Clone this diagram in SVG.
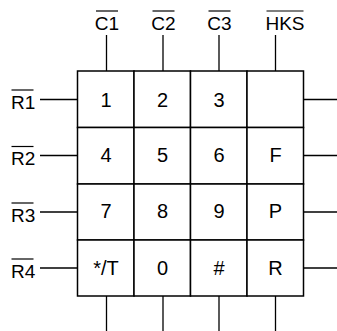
<svg xmlns="http://www.w3.org/2000/svg" width="337" height="331" viewBox="0 0 337 331">
<style>
text{font-family:"Liberation Sans",Arial,sans-serif;font-size:20px;fill:#000}
.lb{font-size:19px}
.c{text-anchor:middle}
.cell{fill:#fff;stroke:#000;stroke-width:1.5}
.w{stroke:#000;stroke-width:1.3;fill:none}
.ob{stroke:#000;stroke-width:1.2}
</style>
<rect width="337" height="331" fill="#fff"/>
<g id="connectors" class="w">
<line x1="106.5" y1="35" x2="106.5" y2="71"/>
<line x1="163" y1="35" x2="163" y2="71"/>
<line x1="219" y1="35" x2="219" y2="71"/>
<line x1="275.5" y1="35" x2="275.5" y2="71"/>
<line x1="40" y1="99.5" x2="77.5" y2="99.5"/>
<line x1="40" y1="155.5" x2="77.5" y2="155.5"/>
<line x1="40" y1="212" x2="77.5" y2="212"/>
<line x1="40" y1="268" x2="77.5" y2="268"/>
<line x1="303.5" y1="99.5" x2="337" y2="99.5"/>
<line x1="303.5" y1="155.5" x2="337" y2="155.5"/>
<line x1="303.5" y1="212" x2="337" y2="212"/>
<line x1="303.5" y1="268" x2="337" y2="268"/>
<line x1="106.5" y1="296" x2="106.5" y2="331"/>
<line x1="163" y1="296" x2="163" y2="331"/>
<line x1="219" y1="296" x2="219" y2="331"/>
<line x1="275.5" y1="296" x2="275.5" y2="331"/>
</g>
<g id="label-C1"><text class="c lb" x="107" y="30">C1</text><line class="ob" x1="96" y1="11" x2="118" y2="11"/></g>
<g id="label-C2"><text class="c lb" x="163.5" y="30">C2</text><line class="ob" x1="152.5" y1="11" x2="174.5" y2="11"/></g>
<g id="label-C3"><text class="c lb" x="219.5" y="30">C3</text><line class="ob" x1="208.5" y1="11" x2="230.5" y2="11"/></g>
<g id="label-HKS"><text class="c lb" x="285" y="30">HKS</text><line class="ob" x1="266.5" y1="11" x2="303.5" y2="11"/></g>
<g id="label-R1"><text class="lb" x="11" y="108.5">R1</text><line class="ob" x1="11.5" y1="90" x2="33.5" y2="90"/></g>
<g id="label-R2"><text class="lb" x="11" y="165">R2</text><line class="ob" x1="11.5" y1="146.5" x2="33.5" y2="146.5"/></g>
<g id="label-R3"><text class="lb" x="11" y="221.5">R3</text><line class="ob" x1="11.5" y1="203" x2="33.5" y2="203"/></g>
<g id="label-R4"><text class="lb" x="11" y="277.5">R4</text><line class="ob" x1="11.5" y1="259" x2="33.5" y2="259"/></g>
<g id="key-1"><rect class="cell" x="77.5" y="71" width="56.5" height="56.5"/><text class="c" x="106" y="106.5">1</text></g>
<g id="key-2"><rect class="cell" x="134" y="71" width="56.5" height="56.5"/><text class="c" x="162.5" y="106.5">2</text></g>
<g id="key-3"><rect class="cell" x="190.5" y="71" width="56.5" height="56.5"/><text class="c" x="219" y="106.5">3</text></g>
<g id="key-HKS"><rect class="cell" x="247" y="71" width="56.5" height="56.5"/></g>
<g id="key-4"><rect class="cell" x="77.5" y="127.5" width="56.5" height="56.5"/><text class="c" x="106" y="161.5">4</text></g>
<g id="key-5"><rect class="cell" x="134" y="127.5" width="56.5" height="56.5"/><text class="c" x="162.5" y="161.5">5</text></g>
<g id="key-6"><rect class="cell" x="190.5" y="127.5" width="56.5" height="56.5"/><text class="c" x="219" y="161.5">6</text></g>
<g id="key-F"><rect class="cell" x="247" y="127.5" width="56.5" height="56.5"/><text class="c" x="275.5" y="161.5">F</text></g>
<g id="key-7"><rect class="cell" x="77.5" y="184" width="56.5" height="56"/><text class="c" x="106" y="218">7</text></g>
<g id="key-8"><rect class="cell" x="134" y="184" width="56.5" height="56"/><text class="c" x="162.5" y="218">8</text></g>
<g id="key-9"><rect class="cell" x="190.5" y="184" width="56.5" height="56"/><text class="c" x="219" y="218">9</text></g>
<g id="key-P"><rect class="cell" x="247" y="184" width="56.5" height="56"/><text class="c" x="275.5" y="218">P</text></g>
<g id="key-star"><rect class="cell" x="77.5" y="240" width="56.5" height="56"/><text class="c" x="106" y="274.5">*/T</text></g>
<g id="key-0"><rect class="cell" x="134" y="240" width="56.5" height="56"/><text class="c" x="162.5" y="274.5">0</text></g>
<g id="key-hash"><rect class="cell" x="190.5" y="240" width="56.5" height="56"/><text class="c" x="219" y="274.5">#</text></g>
<g id="key-R"><rect class="cell" x="247" y="240" width="56.5" height="56"/><text class="c" x="275.5" y="274.5">R</text></g>
</svg>
